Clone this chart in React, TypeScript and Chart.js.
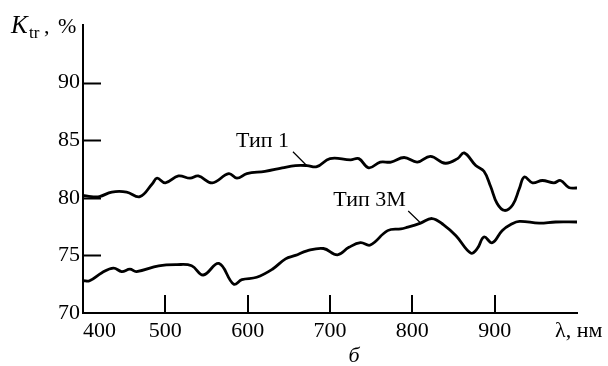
import React, { useEffect, useRef } from "react";
import { Chart, registerables } from "chart.js";

Chart.register(...registerables);

const lambda1 = [400, 410, 420, 435, 453, 469, 484, 490, 500, 516, 530, 540, 557, 577, 587, 599, 621, 642, 658, 672, 684, 700, 725, 735, 747, 761, 774, 790, 806, 822, 840, 855, 863, 877, 887, 895, 903, 912, 922, 930, 936, 946, 958, 972, 980, 990, 1000];
const k1 = [80.2, 80.1, 80.1, 80.5, 80.5, 80.1, 81.2, 81.7, 81.3, 81.9, 81.7, 81.9, 81.3, 82.1, 81.7, 82.1, 82.3, 82.6, 82.8, 82.8, 82.7, 83.4, 83.3, 83.4, 82.6, 83.1, 83.1, 83.5, 83.1, 83.6, 83.0, 83.4, 83.9, 82.8, 82.3, 81.0, 79.5, 78.9, 79.4, 80.8, 81.8, 81.3, 81.5, 81.3, 81.5, 80.9, 80.85];

const lambda3 = [400, 408, 423, 437, 447, 457, 465, 492, 514, 532, 546, 565, 583, 593, 611, 630, 646, 658, 672, 692, 709, 723, 737, 749, 770, 786, 792, 810, 824, 838, 853, 871, 879, 887, 897, 909, 920, 930, 954, 974, 1000];
const k3 = [72.8, 72.8, 73.5, 73.9, 73.6, 73.8, 73.6, 74.1, 74.2, 74.1, 73.3, 74.3, 72.5, 72.9, 73.1, 73.8, 74.7, 75.0, 75.4, 75.6, 75.05, 75.7, 76.1, 75.9, 77.15, 77.3, 77.4, 77.8, 78.2, 77.65, 76.7, 75.2, 75.6, 76.6, 76.1, 77.15, 77.7, 77.96, 77.8, 77.9, 77.9];

const xTicks = [400, 500, 600, 700, 800, 900];
const yTicks = [70, 75, 80, 85, 90];
const xUnit = "λ, нм";
const seriesNames = ["Тип 1", "Тип 3М"];
const subLabel = "б";

const FONT = "'Liberation Serif', 'Times New Roman', serif";

export default function App() {
  const ref = useRef<HTMLCanvasElement | null>(null);

  useEffect(() => {
    document.body.style.margin = "0";
    const canvas = ref.current;
    if (!canvas) return;

    const decor = {
      id: "decor",
      afterDraw(chart: any) {
        const ctx = chart.ctx;
        const xs = chart.scales.x;
        const ys = chart.scales.y;
        const area = chart.chartArea;
        ctx.save();
        ctx.strokeStyle = "#000";
        ctx.fillStyle = "#000";
        ctx.lineWidth = 2;
        // inward tick marks
        yTicks.forEach((v) => {
          if (v === ys.min) return;
          const py = Math.round(ys.getPixelForValue(v)) + 0.5;
          ctx.beginPath();
          ctx.moveTo(area.left, py);
          ctx.lineTo(area.left + 18, py);
          ctx.stroke();
        });
        xTicks.forEach((v) => {
          if (v === xs.min) return;
          const px = Math.round(xs.getPixelForValue(v));
          ctx.beginPath();
          ctx.moveTo(px, area.bottom);
          ctx.lineTo(px, area.bottom - 18);
          ctx.stroke();
        });
        // x labels
        ctx.font = `22px ${FONT}`;
        ctx.textBaseline = "alphabetic";
        const by = area.bottom + 24;
        xTicks.forEach((v) => {
          const px = xs.getPixelForValue(v);
          if (v === xs.min) {
            ctx.textAlign = "left";
            ctx.fillText(String(v), px + 0, by);
          } else {
            ctx.textAlign = "center";
            ctx.fillText(String(v), px, by);
          }
        });
        ctx.textAlign = "left";
        ctx.fillText(xUnit, area.right - 22, by);

        // series labels with leader lines
        ctx.textAlign = "center";
        ctx.fillText(seriesNames[0], xs.getPixelForValue(618), ys.getPixelForValue(84.4));
        ctx.fillText(seriesNames[1], xs.getPixelForValue(748), ys.getPixelForValue(79.3));
        ctx.lineWidth = 1.2;
        ctx.beginPath();
        ctx.moveTo(xs.getPixelForValue(655), ys.getPixelForValue(84.0));
        ctx.lineTo(xs.getPixelForValue(671), ys.getPixelForValue(82.85));
        ctx.moveTo(xs.getPixelForValue(795), ys.getPixelForValue(78.85));
        ctx.lineTo(xs.getPixelForValue(811), ys.getPixelForValue(77.75));
        ctx.stroke();

        // y axis title K_tr, %
        ctx.textAlign = "left";
        ctx.font = `italic 25px ${FONT}`;
        ctx.fillText("K", 11, 33);
        ctx.font = `17px ${FONT}`;
        ctx.fillText("tr", 29, 38);
        ctx.font = `22px ${FONT}`;
        ctx.fillText(",", 44, 33);
        ctx.fillText("%", 58, 33);

        // sub label
        ctx.font = `italic 22px ${FONT}`;
        ctx.textAlign = "center";
        ctx.fillText(subLabel, 354, 362);
        ctx.restore();
      },
    };

    const chart = new Chart(canvas, {
      type: "scatter",
      data: {
        datasets: [
          {
            label: seriesNames[0],
            data: lambda1.map((x, i) => ({ x, y: k1[i] })),
            showLine: true,
            borderColor: "#000",
            borderWidth: 2.8,
            pointRadius: 0,
            tension: 0.4,
          },
          {
            label: seriesNames[1],
            data: lambda3.map((x, i) => ({ x, y: k3[i] })),
            showLine: true,
            borderColor: "#000",
            borderWidth: 2.8,
            pointRadius: 0,
            tension: 0.4,
          },
        ],
      },
      plugins: [decor],
      options: {
        responsive: false,
        animation: false,
        devicePixelRatio: 1,
        layout: { padding: { top: 25, right: 31, left: 0, bottom: 0 } },
        plugins: { legend: { display: false }, tooltip: { enabled: false } },
        scales: {
          x: {
            type: "linear",
            min: 400,
            max: 1000,
            ticks: { display: false },
            grid: { display: false, drawTicks: false },
            border: { display: true, color: "#000", width: 2 },
            afterFit: (s: any) => {
              s.height = 53;
            },
          },
          y: {
            type: "linear",
            min: 70,
            max: 95,
            afterBuildTicks: (s: any) => {
              s.ticks = yTicks.map((v) => ({ value: v }));
            },
            ticks: {
              color: "#000",
              padding: 3,
              font: { family: FONT, size: 22 },
            },
            grid: { display: false, drawTicks: false },
            border: { display: true, color: "#000", width: 2 },
            afterFit: (s: any) => {
              s.width = 83;
            },
          },
        },
      },
    });
    return () => chart.destroy();
  }, []);

  return (
    <div style={{ position: "absolute", left: 0, top: 0, width: 608, height: 366 }}>
      <canvas ref={ref} width={608} height={366} style={{ width: 608, height: 366, display: "block" }} />
    </div>
  );
}
